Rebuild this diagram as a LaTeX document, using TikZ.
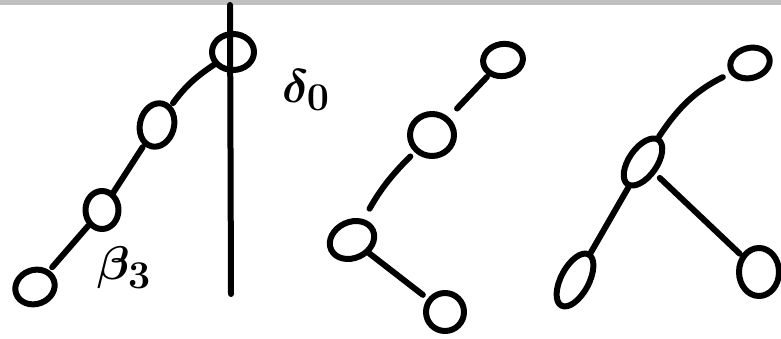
\documentclass[tikz,border=0pt]{standalone}
\usetikzlibrary{shapes.geometric}
\begin{document}
\begin{tikzpicture}[x=1pt,y=-1pt,
  pen/.style={line width=6pt,line cap=round,line join=round,black},
  blob/.style={pen,draw,ellipse,inner sep=0pt},
  edge/.style={pen},
  lab/.style={font=\Huge\boldmath,inner sep=0pt,scale=1.9}]
\useasboundingbox (0,0) rectangle (781,339);
\fill[fill={rgb,255:red,192;green,192;blue,192}] (0,0) rectangle (781,4.7);
% left tree
\node[blob,minimum width=42pt,minimum height=36pt] (L1) at (233,52) {};
\node[blob,minimum width=34pt,minimum height=44pt,rotate=-15] (L2) at (157,125) {};
\node[blob,minimum width=33pt,minimum height=38pt] (L3) at (102,210) {};
\node[blob,minimum width=40pt,minimum height=34pt,rotate=20] (L4) at (35,287) {};
\coordinate (vt) at (230,5);
\coordinate (vb) at (231,294);
\draw[edge] (vt) -- (vb);
\draw[edge,shorten >=3pt] (L1) to[bend right=10] (L2);
\draw[edge,shorten <=2pt] (L2) -- (L3);
\draw[edge,shorten >=4pt] (L3) -- (L4);
\node[lab] (d0) at (306,90) {$\delta_0$};
\node[lab] (b3) at (124,268) {$\beta_3$};
% middle tree
\node[blob,minimum width=40pt,minimum height=32pt,rotate=10] (M1) at (503,60) {};
\node[blob,minimum width=44pt,minimum height=42pt] (M2) at (432,135) {};
\node[blob,minimum width=46pt,minimum height=36pt,rotate=25] (M3) at (352,240) {};
\node[blob,minimum width=38pt,minimum height=38pt] (M4) at (445,312) {};
\draw[edge,shorten <=2pt,shorten >=12pt] (M1) -- (M2);
\draw[edge,shorten <=6pt,shorten >=12pt] (M2) to[bend right=8] (M3);
\draw[edge,shorten >=6pt] (M3) -- (M4);
% right tree
\node[blob,minimum width=40pt,minimum height=30pt,rotate=15] (R1) at (750,63) {};
\node[blob,minimum width=54pt,minimum height=28pt,rotate=55] (R2) at (643,162) {};
\node[blob,minimum width=58pt,minimum height=28pt,rotate=62] (R3) at (575,280) {};
\node[blob,minimum width=40pt,minimum height=48pt] (R4) at (759,272) {};
\draw[edge,shorten <=8pt] (R1) to[bend right=15] (R2);
\draw[edge] (R2) -- (R3);
\draw[edge,shorten <=6pt,shorten >=2pt] (R2) -- (R4);
\end{tikzpicture}
\end{document}
